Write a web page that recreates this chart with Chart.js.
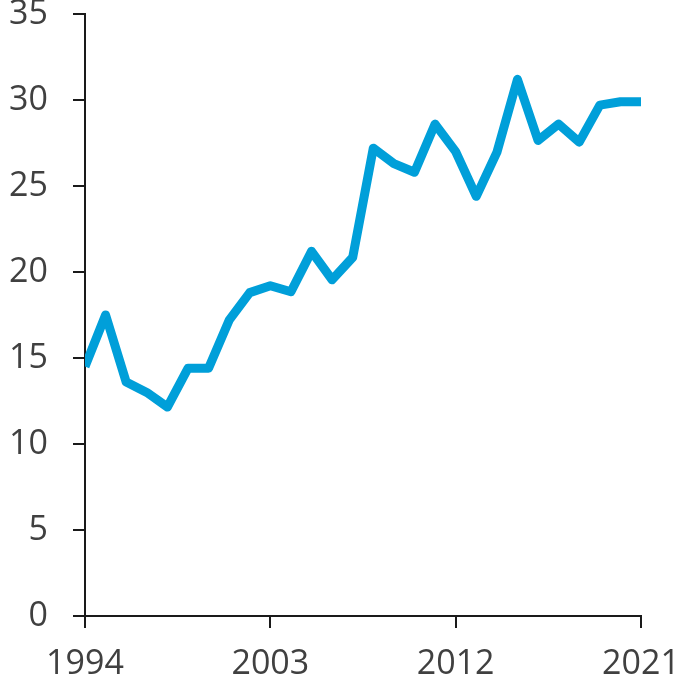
<!DOCTYPE html>
<html>
<head>
<meta charset="utf-8">
<script src="https://cdn.jsdelivr.net/npm/chart.js@4"></script>
<style>
  html, body { margin: 0; padding: 0; background: #ffffff; }
  #wrap { width: 692px; height: 692px; }
</style>
</head>
<body>
<div id="wrap"><canvas id="lineChart"></canvas></div>
<script>
// --- Data ---
const years = [1994, 1995, 1996, 1997, 1998, 1999, 2000, 2001, 2002, 2003, 2004, 2005, 2006, 2007,
               2008, 2009, 2010, 2011, 2012, 2013, 2014, 2015, 2016, 2017, 2018, 2019, 2020, 2021];
const values = [14.5, 17.5, 13.6, 13.0, 12.15, 14.4, 14.4, 17.2, 18.8, 19.2, 18.85, 21.2, 19.55, 20.85,
                27.2, 26.3, 25.8, 28.6, 27.0, 24.4, 26.95, 31.2, 27.65, 28.6, 27.55, 29.7, 29.9, 29.9];
const xTickLabels = [1994, 2003, 2012, 2021];
const yTickLabels = [0, 5, 10, 15, 20, 25, 30, 35];

const textColor = '#404040';
const axisColor = '#1a1a1a';
const labelFont = { family: "'Open Sans', sans-serif", size: 34 };

const ctx = document.getElementById('lineChart').getContext('2d');

new Chart(ctx, {
    type: 'line',
    data: {
        datasets: [{
            label: 'Series',
            data: years.map((y, i) => ({ x: y, y: values[i] })),
            borderColor: '#009fd9',
            borderWidth: 9,
            pointRadius: 0,
            tension: 0,
            fill: false,
            borderJoinStyle: 'round',
            borderCapStyle: 'butt'
        }]
    },
    options: {
        responsive: true,
        maintainAspectRatio: false,
        animation: false,
        layout: { padding: { top: 14, right: 51, left: 0, bottom: 0 } },
        plugins: {
            legend: { display: false },
            tooltip: { enabled: false }
        },
        scales: {
            x: {
                type: 'linear',
                min: xTickLabels[0],
                max: xTickLabels[xTickLabels.length - 1],
                afterBuildTicks: (scale) => { scale.ticks = xTickLabels.map(v => ({ value: v })); },
                afterFit: (scale) => {
                    scale.height = 76;
                    scale.paddingLeft = 0;
                    scale.paddingRight = 0;
                },
                border: { display: true, color: axisColor, width: 2 },
                grid: { drawOnChartArea: false, drawTicks: true, tickLength: 12, tickWidth: 2, tickColor: axisColor, color: axisColor, lineWidth: 2 },
                ticks: {
                    color: textColor,
                    font: labelFont,
                    padding: 16,
                    maxRotation: 0,
                    autoSkip: false,
                    callback: (v) => String(v)
                }
            },
            y: {
                min: 0,
                max: 35,
                afterBuildTicks: (scale) => { scale.ticks = yTickLabels.map(v => ({ value: v })); },
                afterFit: (scale) => {
                    scale.width = 85;
                    scale.paddingTop = 0;
                    scale.paddingBottom = 0;
                },
                border: { display: true, color: axisColor, width: 2 },
                grid: { drawOnChartArea: false, drawTicks: true, tickLength: 12, tickWidth: 2, tickColor: axisColor, color: axisColor, lineWidth: 2 },
                ticks: {
                    color: textColor,
                    font: labelFont,
                    padding: 25,
                    callback: (v) => String(v)
                }
            }
        }
    }
});
</script>
</body>
</html>
